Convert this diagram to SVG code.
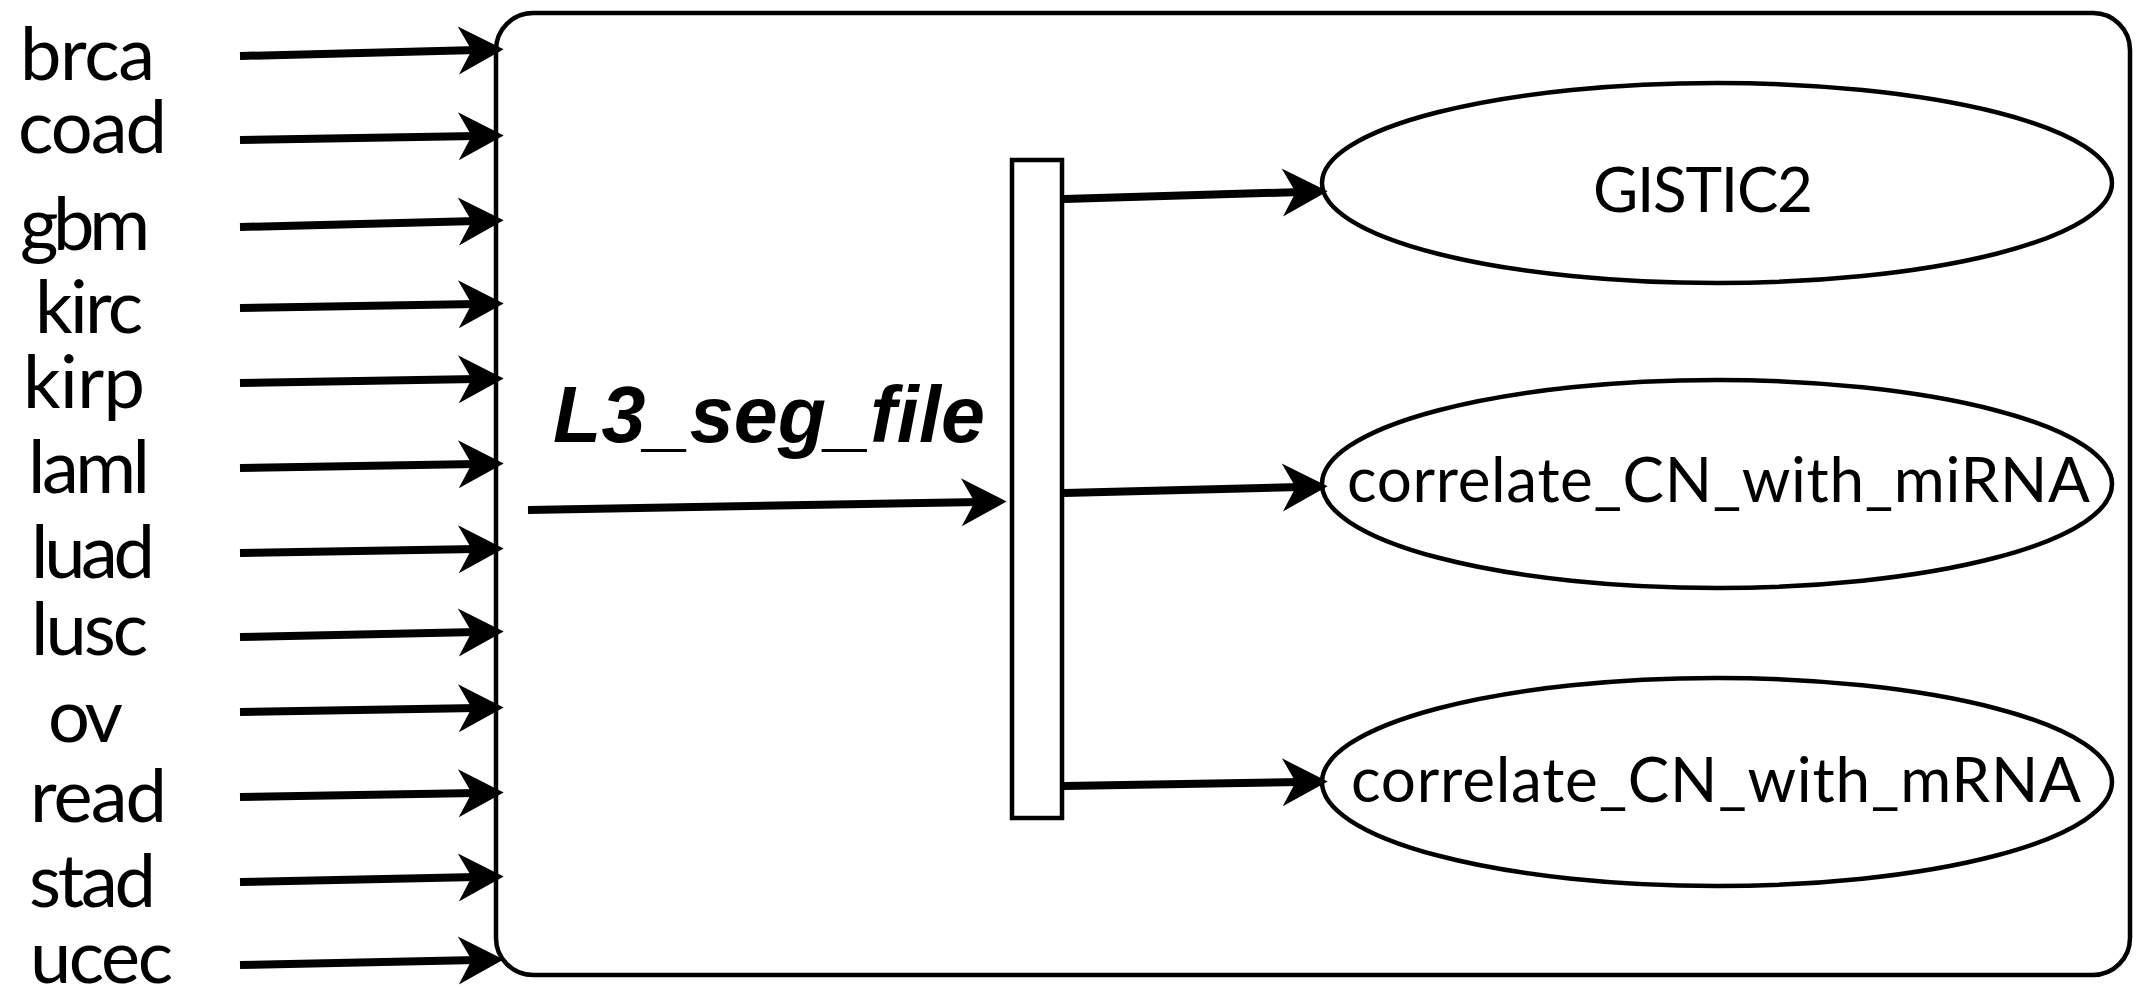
<svg xmlns="http://www.w3.org/2000/svg" width="2138" height="987" viewBox="0 0 2138 987">
<style>
.lbl{font-family:Lato,"Open Sans","DejaVu Sans",sans-serif;font-size:74px;fill:#000}
.nt{font-family:Lato,"Open Sans","DejaVu Sans",sans-serif;font-size:62px;fill:#000}
.big{font-family:"Liberation Sans",Arial,sans-serif;font-size:79px;font-weight:bold;font-style:italic;fill:#000}
.shape{fill:#fff;stroke:#000;stroke-width:4.5}
.conn line{stroke:#000;stroke-width:8;marker-end:url(#ah)}
</style>
<defs>
<marker id="ah" markerUnits="userSpaceOnUse" markerWidth="60" markerHeight="60" viewBox="-20 -20 45 40" refX="0" refY="0" orient="auto">
<path d="M20,0 L-14,-18 L-4,0 L-14,18 Z" fill="#000"/>
</marker>
</defs>
<rect width="2138" height="987" fill="#fff"/>
<g id="main-box"><rect class="shape" x="496" y="13" width="1634" height="962" rx="37" ry="37" fill="none"/></g>
<g id="inputs">
<text class="lbl" x="20" y="80" textLength="135">brca</text>
<text class="lbl" x="18" y="153" textLength="149">coad</text>
<text class="lbl" x="20" y="250" textLength="130">gbm</text>
<text class="lbl" x="35" y="333" textLength="108">kirc</text>
<text class="lbl" x="23" y="408" textLength="122">kirp</text>
<text class="lbl" x="28" y="493" textLength="122">laml</text>
<text class="lbl" x="31" y="578" textLength="124">luad</text>
<text class="lbl" x="31" y="655" textLength="117">lusc</text>
<text class="lbl" x="48" y="742" textLength="75">ov</text>
<text class="lbl" x="30" y="822" textLength="137">read</text>
<text class="lbl" x="29" y="907" textLength="127">stad</text>
<text class="lbl" x="30" y="983" textLength="143">ucec</text>
</g>
<g id="label-L3"><text class="big" x="553" y="442" textLength="432">L3_seg_file</text></g>
<g id="splitter"><rect class="shape" x="1012" y="160" width="50" height="658"/></g>
<g id="node-gistic2"><ellipse class="shape" cx="1717" cy="183" rx="395" ry="100"/><text class="nt" x="1593" y="212" textLength="220">GISTIC2</text></g>
<g id="node-mirna"><ellipse class="shape" cx="1717" cy="484" rx="395" ry="104"/><text class="nt" x="1347" y="502" textLength="743">correlate_CN_with_miRNA</text></g>
<g id="node-mrna"><ellipse class="shape" cx="1717" cy="782" rx="395" ry="104"/><text class="nt" x="1351" y="802" textLength="730">correlate_CN_with_mRNA</text></g>
<g id="connectors" class="conn">
<line x1="240" y1="56" x2="477" y2="50"/>
<line x1="240" y1="140" x2="477" y2="136"/>
<line x1="240" y1="227" x2="477" y2="221"/>
<line x1="240" y1="308" x2="477" y2="304"/>
<line x1="240" y1="383" x2="477" y2="379"/>
<line x1="240" y1="468" x2="477" y2="464"/>
<line x1="240" y1="553" x2="477" y2="549"/>
<line x1="240" y1="637" x2="477" y2="632"/>
<line x1="240" y1="712" x2="477" y2="708"/>
<line x1="240" y1="797" x2="477" y2="793"/>
<line x1="240" y1="882" x2="477" y2="877"/>
<line x1="240" y1="965" x2="477" y2="960"/>
<line x1="528" y1="510" x2="980" y2="502"/>
<line x1="1064" y1="199" x2="1301" y2="192"/>
<line x1="1064" y1="493" x2="1301" y2="487"/>
<line x1="1064" y1="786" x2="1301" y2="782"/>
</g>
</svg>
